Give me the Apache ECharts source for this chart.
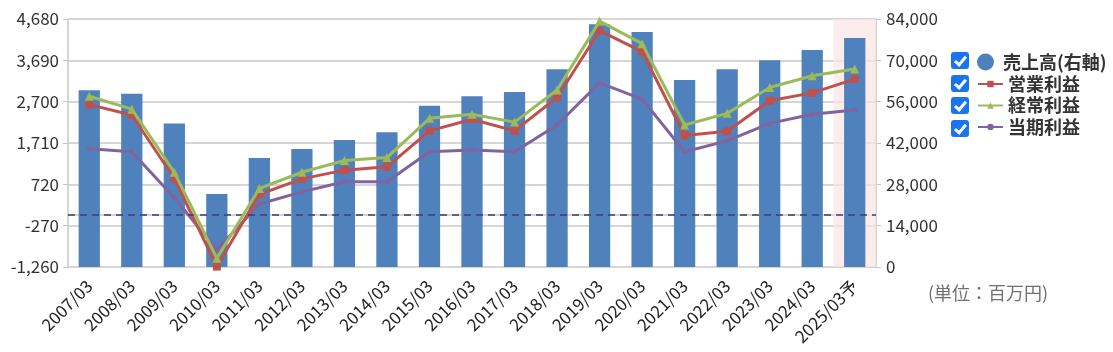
<!DOCTYPE html>
<html>
<head>
<meta charset="utf-8">
<script src="https://cdn.jsdelivr.net/npm/echarts@6/dist/echarts.min.js"></script>
<style>
  html, body { margin: 0; padding: 0; background: #fff; }
  #wrap { position: relative; width: 1113px; height: 352px; }
  #chart { width: 1113px; height: 352px; }
  .chk { position: absolute; left: 951px; width: 18px; height: 17px; background: #1a73f0; border-radius: 3px; }
  .chk::after { content: ''; position: absolute; left: 6px; top: 2px; width: 4px; height: 9px;
    border: solid #fff; border-width: 0 3px 3px 0; transform: rotate(40deg); }
  #unit { position: absolute; left: 928px; top: 279px; font: 18px "Noto Sans CJK JP", sans-serif; color: #707070; }
</style>
</head>
<body>
<div id="wrap">
  <div id="chart"></div>
  <div class="chk" style="top:52px"></div>
  <div class="chk" style="top:75px"></div>
  <div class="chk" style="top:97px"></div>
  <div class="chk" style="top:120px"></div>
  <div id="unit">(単位：百万円)</div>
</div>
<script>
  // 決算期
  const periods = ['2007/03', '2008/03', '2009/03', '2010/03', '2011/03', '2012/03', '2013/03', '2014/03', '2015/03', '2016/03', '2017/03', '2018/03', '2019/03', '2020/03', '2021/03', '2022/03', '2023/03', '2024/03', '2025/03予'];
  // 売上高 (右軸)
  const sales = [59900, 58700, 48600, 24700, 36900, 40000, 43000, 45600, 54600, 57800, 59300, 67000, 82200, 79600, 63300, 67000, 70000, 73500, 77600];
  // 営業利益
  const opProfit = [2630, 2380, 860, -1250, 480, 850, 1060, 1140, 2000, 2280, 2000, 2800, 4400, 3900, 1890, 1990, 2720, 2910, 3240];
  // 経常利益
  const ordProfit = [2830, 2520, 1010, -1050, 620, 1010, 1290, 1360, 2300, 2400, 2210, 2980, 4630, 4090, 2140, 2420, 3040, 3320, 3480];
  // 当期利益
  const netProfit = [1570, 1500, 400, -850, 250, 540, 780, 780, 1500, 1540, 1500, 2140, 3150, 2760, 1500, 1760, 2180, 2400, 2500];
  // 予想期の背景
  const forecast = [0, 0, 0, 0, 0, 0, 0, 0, 0, 0, 0, 0, 0, 0, 0, 0, 0, 0, 84000];
  const leftTicks = [-1260, -270, 720, 1710, 2700, 3690, 4680];
  const rightTicks = [0, 14000, 28000, 42000, 56000, 70000, 84000];

  const chart = echarts.init(document.getElementById('chart'));
  const font = '"Noto Sans CJK JP", "Noto Sans", sans-serif';
  const axisLabel = { color: '#333', fontSize: 17, fontFamily: font, formatter: (v) => v.toLocaleString('en-US') };
  const legendText = { color: '#333', fontSize: 18, fontWeight: 'bold', fontFamily: font };

  const option = {
    animation: false,
    grid: { left: 68, right: 237, top: 19, bottom: 85 },
    legend: [
      {
        orient: 'vertical',
        left: 972,
        top: 48,
        itemWidth: 25,
        itemHeight: 17,
        selectedMode: false,
        textStyle: legendText,
        data: [{ name: '売上高(右軸)', icon: 'circle' }],
      },
      {
        orient: 'vertical',
        left: 972,
        top: 70,
        itemWidth: 25,
        itemHeight: 8,
        itemGap: 3.5,
        selectedMode: false,
        textStyle: legendText,
        data: ['営業利益', '経常利益', '当期利益'],
      },
    ],
    xAxis: [
      {
        type: 'category',
        data: periods,
        axisLine: { lineStyle: { color: '#c8c8c8', width: 1.5 } },
        axisTick: { inside: true, length: 10, lineStyle: { color: '#c8c8c8' } },
        axisLabel: { color: '#222', fontSize: 17, fontFamily: font, rotate: 45, interval: 0, margin: 16 },
      },
      { type: 'category', data: periods, show: false },
    ],
    yAxis: [
      {
        type: 'value',
        min: leftTicks[0],
        max: leftTicks[leftTicks.length - 1],
        interval: leftTicks[1] - leftTicks[0],
        axisLine: { show: true, lineStyle: { color: '#c8c8c8', width: 1.5 } },
        axisTick: { show: true, length: 5, lineStyle: { color: '#c8c8c8' } },
        axisLabel: { ...axisLabel, margin: 9 },
        splitLine: { lineStyle: { color: '#c8c8c8', width: 1.5 } },
      },
      {
        type: 'value',
        min: rightTicks[0],
        max: rightTicks[rightTicks.length - 1],
        interval: rightTicks[1] - rightTicks[0],
        axisLine: { show: true, lineStyle: { color: '#c8c8c8', width: 1.5 } },
        axisTick: { show: true, length: 5, lineStyle: { color: '#c8c8c8' } },
        axisLabel: { ...axisLabel, margin: 10 },
        splitLine: { show: false },
      },
    ],
    series: [
      {
        name: 'forecast',
        type: 'bar',
        xAxisIndex: 1,
        yAxisIndex: 1,
        barWidth: '100%',
        silent: true,
        itemStyle: { color: 'rgba(252, 228, 228, 0.7)' },
        data: forecast,
        z: 0,
      },
      {
        name: '売上高(右軸)',
        type: 'bar',
        yAxisIndex: 1,
        barWidth: '50%',
        itemStyle: { color: '#4f81bd' },
        data: sales,
        z: 2,
      },
      {
        name: '当期利益',
        type: 'line',
        yAxisIndex: 0,
        symbol: 'circle',
        symbolSize: 5,
        showAllSymbol: true,
        lineStyle: { color: '#8064a2', width: 3 },
        itemStyle: { color: '#8064a2' },
        data: netProfit,
        markLine: {
          silent: true,
          symbol: 'none',
          label: { show: false },
          lineStyle: { color: '#3c3c78', type: [7, 5], width: 1.5 },
          data: [{ yAxis: 0 }],
        },
        z: 3,
      },
      {
        name: '営業利益',
        type: 'line',
        yAxisIndex: 0,
        symbol: 'rect',
        symbolSize: 8,
        showAllSymbol: true,
        lineStyle: { color: '#c0504d', width: 3 },
        itemStyle: { color: '#c0504d' },
        data: opProfit,
        z: 4,
      },
      {
        name: '経常利益',
        type: 'line',
        yAxisIndex: 0,
        symbol: 'triangle',
        symbolSize: 9,
        showAllSymbol: true,
        lineStyle: { color: '#9bbb59', width: 3 },
        itemStyle: { color: '#9bbb59' },
        data: ordProfit,
        z: 5,
      },
    ],
  };

  chart.setOption(option);
</script>
</body>
</html>
